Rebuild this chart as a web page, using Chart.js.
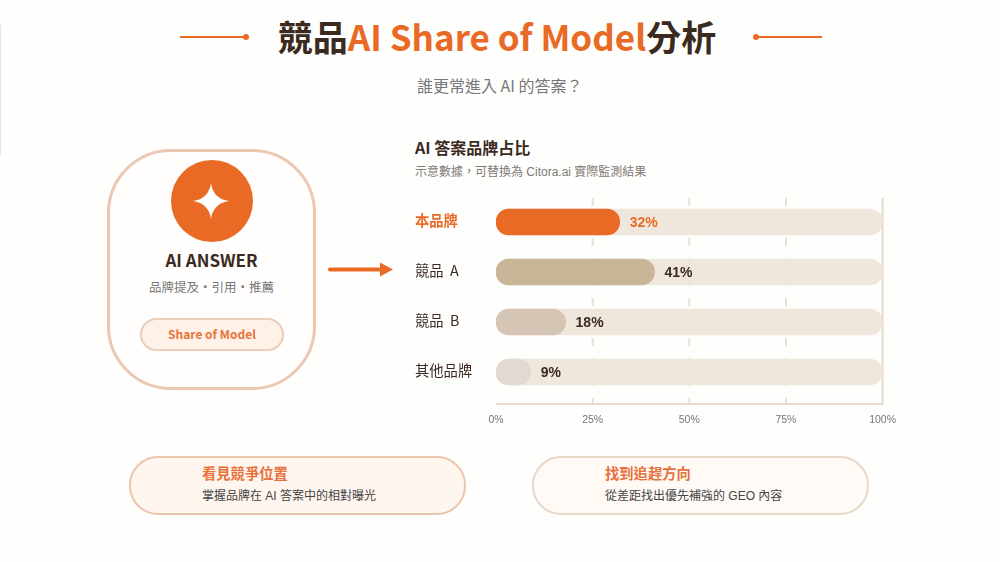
<!DOCTYPE html>
<html lang="zh-Hant">
<head>
<meta charset="utf-8">
<title>競品 AI Share of Model 分析</title>
<script src="https://cdn.jsdelivr.net/npm/chart.js@4"></script>
<style>
    html, body { margin: 0; padding: 0; }
    body {
        width: 1000px; height: 562px; overflow: hidden; position: relative;
        background: #fefefd; color: #3b2a20;
        font-family: "Noto Sans CJK TC", "Noto Sans", sans-serif;
    }
    .abs { position: absolute; white-space: nowrap; line-height: 1; }
    .edge { position: absolute; left: 0; top: 25px; width: 1px; height: 130px; background: #e4e4e4; }
    .title { left: 0; width: 994px; top: 18px; text-align: center; font-size: 35px; font-weight: 700; }
    .title span { color: #e96a25; }
    .rule { position: absolute; top: 36px; width: 68px; height: 2px; background: #e96a25; }
    .dot { position: absolute; top: 34px; width: 6px; height: 6px; border-radius: 50%; background: #e96a25; }
    .subtitle { left: 417px; top: 77px; font-size: 16px; color: #777; }
    .chart-title { left: 415px; top: 139px; font-size: 16px; font-weight: 700; }
    .chart-note { left: 415px; top: 166px; font-size: 12px; color: #807a75; font-family: "Liberation Sans", "Noto Sans CJK TC", sans-serif; }
    .answer { position: absolute; left: 107px; top: 149px; width: 203px; height: 235px; border: 3px solid #eac8b3; border-radius: 64px; background: #fffefd; }
    .circle { position: absolute; left: 171px; top: 160px; width: 82px; height: 82px; border-radius: 50%; background: #e96a25; }
    .answer-head { left: 108px; width: 207px; top: 251px; text-align: center; font-size: 17px; font-weight: 700; }
    .answer-sub { left: 108px; width: 207px; top: 281px; text-align: center; font-size: 12.5px; color: #777; }
    .pill { position: absolute; left: 140px; top: 318px; width: 140px; height: 29px; border: 2px solid #eccdb8; border-radius: 17px; background: #fdf1e8; }
    .pill-text { left: 140px; width: 144px; top: 328px; text-align: center; font-size: 12px; font-weight: 700; color: #e8753a; }
    .card { position: absolute; top: 456px; width: 333px; height: 55px; border-radius: 29px; border: 2px solid; }
    .card-head { top: 466px; font-size: 14.3px; font-weight: 700; color: #e8703a; }
    .card-sub { top: 490px; font-size: 12px; color: #444; font-family: "Liberation Sans", "Noto Sans CJK TC", sans-serif; }
    #chartBox { position: absolute; left: 415px; top: 190px; width: 490px; height: 240px; }
</style>
</head>
<body>
<div class="edge"></div>
<div class="rule" style="left:180px"></div><div class="dot" style="left:243px"></div>
<div class="rule" style="left:754px"></div><div class="dot" style="left:753px"></div>
<div class="abs title">競品<span>AI Share of Model</span>分析</div>
<div class="abs subtitle">誰更常進入 AI 的答案？</div>

<div class="answer"></div>
<div class="circle"></div>
<svg class="abs" style="left:191px;top:181px" width="40" height="40" viewBox="0 0 42 42">
    <path d="M21 2 C22.5 13 29 19.5 40 21 C29 22.5 22.5 29 21 40 C19.5 29 13 22.5 2 21 C13 19.5 19.5 13 21 2 Z" fill="#fff"/>
</svg>
<div class="abs answer-head">AI ANSWER</div>
<div class="abs answer-sub">品牌提及・引用・推薦</div>
<div class="pill"></div>
<div class="abs pill-text">Share of Model</div>
<svg class="abs" style="left:326px;top:260px" width="70" height="20" viewBox="0 0 70 20">
    <line x1="4" y1="9.5" x2="56" y2="9.5" stroke="#e96a25" stroke-width="4" stroke-linecap="round"/>
    <path d="M54 2.5 L67 9.5 L54 16.5 Z" fill="#e96a25"/>
</svg>

<div class="abs chart-title">AI 答案品牌占比</div>
<div class="abs chart-note">示意數據，可替換為 Citora.ai 實際監測結果</div>
<div id="chartBox"><canvas id="shareChart" width="490" height="240"></canvas></div>

<div class="card" style="left:129px;background:#fff6ef;border-color:#ecc6ac"></div>
<div class="abs card-head" style="left:202px">看見競爭位置</div>
<div class="abs card-sub" style="left:202px">掌握品牌在 AI 答案中的相對曝光</div>
<div class="card" style="left:532px;background:#fffaf6;border-color:#e7d8c8"></div>
<div class="abs card-head" style="left:605px">找到追趕方向</div>
<div class="abs card-sub" style="left:605px">從差距找出優先補強的 GEO 內容</div>

<script>
// data
const brands = ["本品牌", "競品  A", "競品  B", "其他品牌"];
const shares = [32, 41, 18, 9];
const trackValues = [100, 100, 100, 100];
const barColors = ["#e96a25", "#c9b698", "#d5c5b5", "#e2dad2"];
const labelColors = ["#e96a25", "#3b2a20", "#3b2a20", "#3b2a20"];
const axisTicks = [0, 25, 50, 75, 100];

// axis lines run past the bars' bands, so they are drawn here from the scale
const axisLines = {
    id: "axisLines",
    beforeDatasetsDraw(chart) {
        const ctx = chart.ctx;
        const x = chart.scales.x;
        const top = chart.chartArea.top + 1;
        const bottom = chart.chartArea.bottom + 7;
        ctx.save();
        ctx.lineWidth = 2;
        ctx.strokeStyle = "#e9dfd3";
        ctx.setLineDash([8, 12]);
        [25, 50, 75].forEach(function (v) {
            ctx.beginPath();
            ctx.moveTo(x.getPixelForValue(v), top);
            ctx.lineTo(x.getPixelForValue(v), bottom);
            ctx.stroke();
        });
        ctx.setLineDash([]);
        ctx.strokeStyle = "#e6dbcd";
        ctx.beginPath();
        ctx.moveTo(x.getPixelForValue(0), bottom);
        ctx.lineTo(x.getPixelForValue(100), bottom);
        ctx.lineTo(x.getPixelForValue(100), top);
        ctx.stroke();
        ctx.restore();
    }
};

// percent text after each bar, brand names on the left edge
const barLabels = {
    id: "barLabels",
    afterDatasetsDraw(chart) {
        const ctx = chart.ctx;
        const bars = chart.getDatasetMeta(1).data;
        const y = chart.scales.y;
        ctx.save();
        ctx.textBaseline = "middle";
        ctx.textAlign = "left";
        bars.forEach(function (bar, i) {
            ctx.fillStyle = labelColors[i];
            ctx.font = 'bold 14px "Liberation Sans", sans-serif';
            ctx.fillText(shares[i] + "%", bar.x + 10, bar.y + 1);
            ctx.font = (i === 0 ? "bold " : "") + '14.3px "Noto Sans CJK TC", sans-serif';
            ctx.fillText(brands[i], 0, y.getPixelForValue(i) - 1);
        });
        ctx.restore();
    }
};

new Chart(document.getElementById("shareChart"), {
    type: "bar",
    data: {
        labels: brands,
        datasets: [
            {
                data: trackValues,
                backgroundColor: "#efe6dc",
                borderRadius: 13,
                borderSkipped: false,
                barThickness: 26,
                grouped: false,
                order: 2
            },
            {
                data: shares,
                backgroundColor: barColors,
                borderRadius: 13,
                borderSkipped: false,
                barThickness: 26,
                grouped: false,
                order: 1
            }
        ]
    },
    options: {
        indexAxis: "y",
        responsive: false,
        animation: false,
        layout: { padding: { top: 7, right: 4, left: 0, bottom: 0 } },
        plugins: { legend: { display: false }, tooltip: { enabled: false } },
        scales: {
            x: {
                min: 0,
                max: 100,
                afterBuildTicks(scale) {
                    scale.ticks = axisTicks.map(function (v) { return { value: v }; });
                },
                afterFit(scale) { scale.height = 33; },
                grid: { display: false },
                border: { display: false },
                ticks: {
                    padding: 9,
                    maxRotation: 0,
                    color: "#777",
                    font: { family: '"Liberation Sans", sans-serif', size: 10.5 },
                    callback: function (v) { return v + "%"; }
                }
            },
            y: {
                afterFit(scale) { scale.width = 81; },
                grid: { display: false },
                border: { display: false },
                ticks: { display: false }
            }
        }
    },
    plugins: [axisLines, barLabels]
});
</script>
</body>
</html>
